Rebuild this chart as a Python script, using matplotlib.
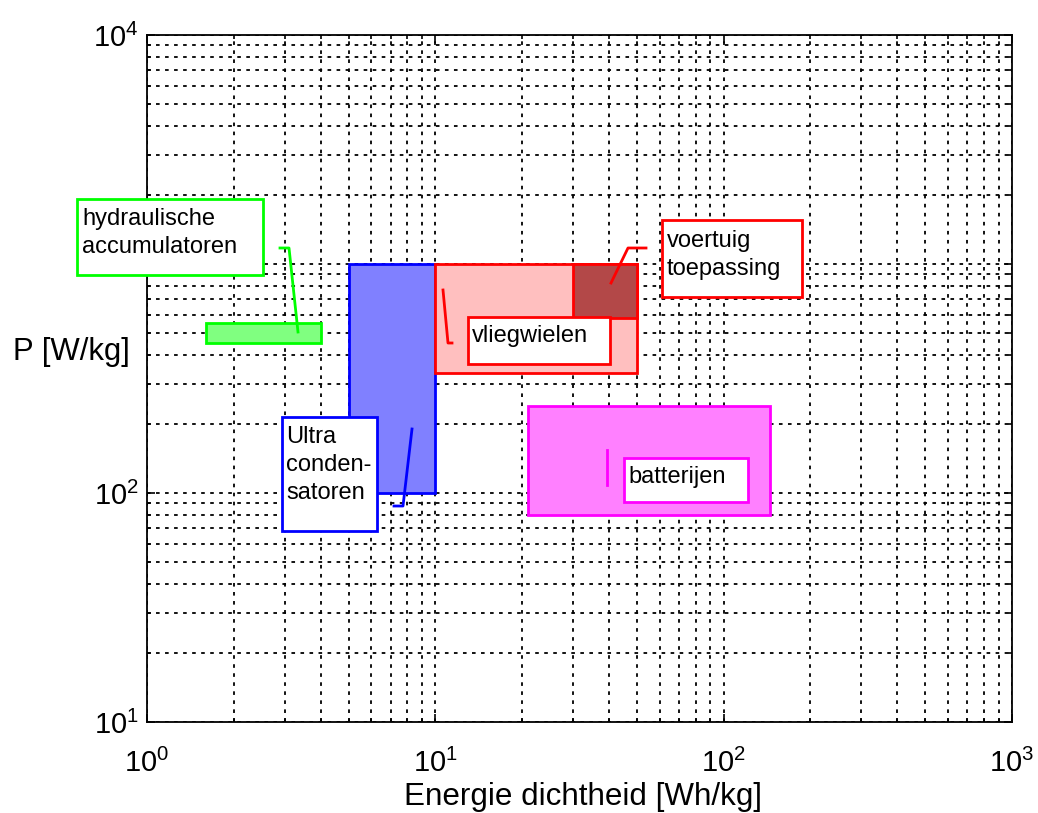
import matplotlib
matplotlib.use('Agg')
import matplotlib.pyplot as plt
from matplotlib.patches import Rectangle
from matplotlib.lines import Line2D
from matplotlib.ticker import NullFormatter

plt.rcParams['font.family'] = ['Liberation Sans', 'DejaVu Sans']

# technology regions: energy density [Wh/kg] vs power density [W/kg]
regions = ['hydraulische accumulatoren', 'ultra condensatoren', 'vliegwielen',
           'voertuig toepassing', 'batterijen']
e_lo = [1.6, 5, 10, 30, 21]
e_hi = [4, 10, 50, 50, 145]
p_lo = [450, 100, 335, 580, 80]
p_hi = [550, 1000, 1000, 1000, 240]

face_colors = ['#80ff80', '#8080ff', '#ffbfbf', '#b34848', '#ff80ff']
edge_colors = ['#00ff00', '#0000ff', '#ff0000', '#ff0000', '#ff00ff']

W, H = 1038, 813

def fx(px):
    return px / W

def fy(py):
    return 1 - py / H

fig = plt.figure(figsize=(W / 100, H / 100), dpi=100)
ax = fig.add_axes([fx(147), fy(722), (1012 - 147) / W, (722 - 35) / H])
ax.set_xscale('log')
ax.set_yscale('log')
ax.set_xlim(1, 1000)
ax.set_ylim(10, 10000)

for i in range(len(regions)):
    ax.add_patch(Rectangle((e_lo[i], p_lo[i]), e_hi[i] - e_lo[i], p_hi[i] - p_lo[i],
                           facecolor=face_colors[i], edgecolor=edge_colors[i],
                           linewidth=2.0, zorder=3))

ax.grid(True, which='both', color='black', linestyle=(0, (2, 3)), linewidth=1.3)
ax.set_axisbelow(True)
ax.xaxis.set_minor_formatter(NullFormatter())
ax.yaxis.set_minor_formatter(NullFormatter())
ax.tick_params(which='both', direction='in', top=True, right=True, labelsize=21, width=1.2)
ax.tick_params(which='major', length=6)
ax.tick_params(which='minor', length=3)
ax.tick_params(axis='x', pad=19)
ax.tick_params(axis='y', pad=6)
for s in ax.spines.values():
    s.set_linewidth(1.3)

ax.set_xlabel('Energie dichtheid [Wh/kg]', fontsize=22.6, va='baseline')
ax.xaxis.set_label_coords(0.5035, (722 - 805) / 687)
ax.set_ylabel('P [W/kg]', fontsize=22.4, rotation=0, ha='left', va='baseline')
ax.yaxis.set_label_coords((13 - 147) / 865, (722 - 360) / 687)

# text boxes with connector lines (pixel layout, figure coords)
boxes = [
    ('hydraulische\naccumulatoren', '#00ff00', (77, 199, 263, 275), 82, 225,
     [(280, 248), (289, 248), (298, 332)]),
    ('Ultra\nconden-\nsatoren', '#0000ff', (282, 417, 377, 531), 286, 443,
     [(394, 506), (403, 506), (412, 429)]),
    ('vliegwielen', '#ff0000', (468, 317, 610, 364), 472, 342,
     [(443, 290), (448, 343), (452, 343)]),
    ('voertuig\ntoepassing', '#ff0000', (662, 220, 802, 297), 667, 247,
     [(646, 248), (628, 248), (611, 283)]),
    ('batterijen', '#ff00ff', (624, 458, 748, 502), 628, 483,
     [(607, 450), (607, 485)]),
]

fs = 17
for text, col, (x0, y0, x1, y1), tx, ty, pts in boxes:
    fig.add_artist(Line2D([fx(p[0]) for p in pts], [fy(p[1]) for p in pts],
                          color=col, linewidth=2.0, transform=fig.transFigure))
    fig.add_artist(Rectangle((fx(x0), fy(y1)), (x1 - x0) / W, (y1 - y0) / H,
                             facecolor='white', edgecolor=col, linewidth=2.0,
                             transform=fig.transFigure))
    # ty is the first baseline; top of the text block sits one ascent above it
    fig.text(fx(tx), fy(ty - 0.716 * fs * 100 / 72), text, fontsize=fs,
             va='top', ha='left', linespacing=1.36)

fig.savefig('out.png', dpi=100)
